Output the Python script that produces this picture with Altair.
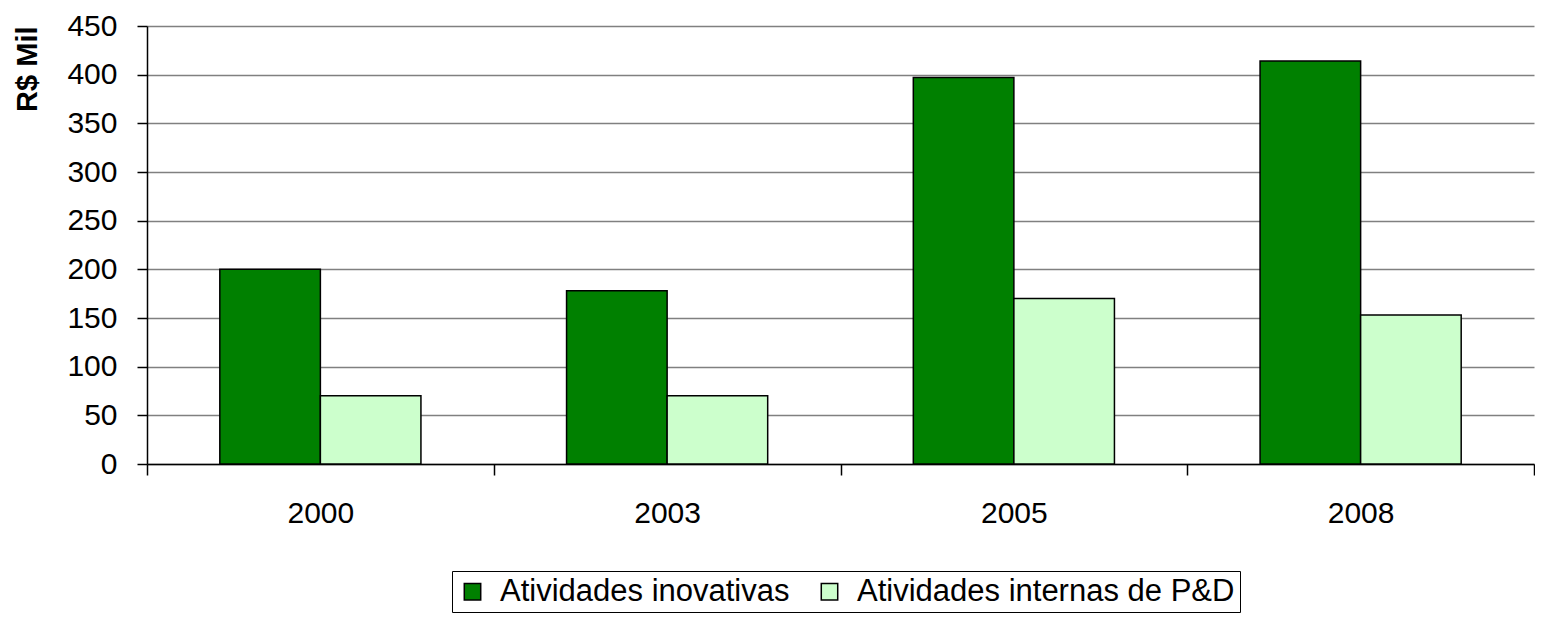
import altair as alt
import pandas as pd

years = ["2000", "2003", "2005", "2008"]
series = ["Atividades inovativas", "Atividades internas de P&D"]
inovativas = [200, 178, 397, 414]
internas = [70, 70, 170, 153]
colors = ["#008000", "#CCFFCC"]

rows = []
for i, y in enumerate(years):
    rows.append({"ano": y, "serie": series[0], "valor": inovativas[i]})
    rows.append({"ano": y, "serie": series[1], "valor": internas[i]})
df = pd.DataFrame(rows)

FONT = "Liberation Sans"

chart = alt.Chart(df).mark_bar(stroke="black", strokeWidth=1.5).encode(
    x=alt.X("ano:N", sort=years,
            scale=alt.Scale(paddingInner=0, paddingOuter=0),
            axis=alt.Axis(title=None, labelAngle=0, labelFontSize=30, labelFont=FONT,
                          labelColor="black", tickBand="extent", tickSize=11,
                          tickColor="black", tickWidth=1.5, domainColor="black",
                          domainWidth=1.5, labelPadding=23, grid=False)),
    xOffset=alt.XOffset("serie:N", sort=series,
                        scale=alt.Scale(paddingInner=0, paddingOuter=0.724)),
    y=alt.Y("valor:Q",
            scale=alt.Scale(domain=[0, 450], nice=False),
            axis=alt.Axis(title="R$ Mil", values=list(range(0, 451, 50)),
                          titleFontSize=29, titleFont=FONT, titleFontWeight="bold",
                          titleColor="black", titleAnchor="end", titlePadding=24,
                          labelFontSize=30, labelFont=FONT, labelColor="black",
                          labelPadding=20, tickSize=10, tickColor="black", tickWidth=1.5,
                          domainColor="black", domainWidth=1.5,
                          gridColor="#808080", gridWidth=1.5)),
    color=alt.Color("serie:N", sort=series,
                    scale=alt.Scale(domain=series, range=colors),
                    legend=alt.Legend(title=None, orient="none", direction="horizontal",
                                      legendX=305, legendY=545,
                                      strokeColor="black", padding=5,
                                      labelFontSize=31, labelFont=FONT, labelColor="black",
                                      labelLimit=0,
                                      symbolType="square", symbolSize=270,
                                      symbolStrokeColor="black", symbolStrokeWidth=1.5,
                                      labelOffset=12, columnPadding=24)),
).properties(
    width=1387, height=438,
    padding={"left": 5, "top": 3, "right": 0, "bottom": 0},
).configure(background="white").configure_view(stroke="transparent", strokeWidth=0)

chart.save("out.html", embed_options={"renderer": "svg", "actions": False})
